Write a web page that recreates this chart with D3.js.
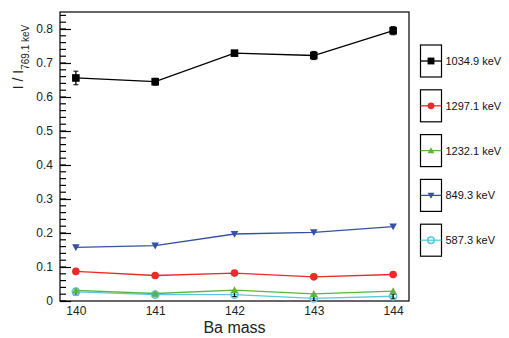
<!DOCTYPE html>
<html><head><meta charset="utf-8">
<script src="https://cdn.jsdelivr.net/npm/d3@7"></script>
<style>body{margin:0;background:#fff}svg{display:block}text{font-family:"Liberation Sans",Arial,sans-serif}</style>
</head><body>
<svg id="c" width="509" height="338"></svg>
<script>
const masses = [140, 141, 142, 143, 144];
const seriesNames = ["1034.9 keV", "1297.1 keV", "1232.1 keV", "849.3 keV", "587.3 keV"];
const v1034 = [0.656, 0.645, 0.729, 0.722, 0.795];
const e1034 = [0.020, 0.010, 0.006, 0.012, 0.012];
const v1297 = [0.087, 0.075, 0.082, 0.071, 0.078];
const v1232 = [0.031, 0.022, 0.032, 0.021, 0.029];
const v849 = [0.158, 0.163, 0.197, 0.202, 0.219];
const v587 = [0.027, 0.019, 0.019, 0.008, 0.014];
const e587 = [0.010, 0.004, 0.006, 0.006, 0.006];
const yTicks = [0, 0.1, 0.2, 0.3, 0.4, 0.5, 0.6, 0.7, 0.8];

const colors = ["#000000", "#ec2a2a", "#5cb53a", "#3550a5", "#5cc8de"];
const shapes = ["square", "circle", "triUp", "triDown", "openCircle"];
const series = [
  {name: seriesNames[0], vals: v1034, err: e1034},
  {name: seriesNames[1], vals: v1297, err: null},
  {name: seriesNames[2], vals: v1232, err: null},
  {name: seriesNames[3], vals: v849, err: null},
  {name: seriesNames[4], vals: v587, err: e587}
];

const L = 60, R = 409, T = 12, B = 301;
const svg = d3.select("#c");
const x = d3.scaleLinear().domain([139.8, 144.2]).range([L, R]);
const y = d3.scaleLinear().domain([0, 0.85]).range([B, T]);

svg.append("rect").attr("x", L).attr("y", T).attr("width", R - L).attr("height", B - T)
  .attr("fill", "none").attr("stroke", "#000").attr("stroke-width", 1.2);

const minor = d3.range(0, 0.851, 0.02).map(d => +d.toFixed(2));
svg.append("g").selectAll("line").data(minor).join("line")
  .attr("x1", L).attr("x2", L + 6).attr("y1", d => y(d)).attr("y2", d => y(d))
  .attr("stroke", "#000").attr("stroke-width", 1.2);
const yAxis = d3.axisLeft(y).tickValues(yTicks).tickSizeInner(-11).tickSizeOuter(0).tickPadding(7)
  .tickFormat(d => d === 0 ? "0" : d3.format(".1f")(d));
const gy = svg.append("g").attr("transform", `translate(${L},0)`).call(yAxis);
gy.select(".domain").remove();
gy.selectAll("line").attr("stroke-width", 1.2);
gy.selectAll("text").attr("font-size", 12).attr("fill", "#222").attr("font-family", "Liberation Sans, Arial, sans-serif");

const xAxis = d3.axisBottom(x).tickValues(masses).tickSize(0).tickPadding(5).tickFormat(d3.format("d"));
const gx = svg.append("g").attr("transform", `translate(0,${B})`).call(xAxis);
gx.select(".domain").remove();
gx.selectAll("text").attr("font-size", 12).attr("fill", "#222").attr("font-family", "Liberation Sans, Arial, sans-serif");

svg.append("text").attr("x", (L + R) / 2).attr("y", 333).attr("text-anchor", "middle")
  .attr("font-size", 16).attr("fill", "#222").text("Ba mass");
const yt = svg.append("text").attr("transform", "translate(23,57) rotate(-90)").attr("text-anchor", "middle")
  .attr("font-size", 14).attr("fill", "#222");
yt.append("tspan").text("I / I");
yt.append("tspan").attr("font-size", 10).attr("dy", 6).text("769.1 keV");

function marker(g, shape, color, cx, cy, scale) {
  const s = scale || 1;
  if (shape === "square") {
    g.append("rect").attr("x", cx - 3.8 * s).attr("y", cy - 3.8 * s).attr("width", 7.6 * s).attr("height", 7.6 * s).attr("fill", color);
  } else if (shape === "circle") {
    g.append("circle").attr("cx", cx).attr("cy", cy).attr("r", 3.8 * s).attr("fill", color);
  } else if (shape === "triUp") {
    const h = 3.8 * s;
    g.append("path").attr("d", `M${cx},${cy - h} L${cx + h},${cy + h * 0.8} L${cx - h},${cy + h * 0.8}Z`).attr("fill", color);
  } else if (shape === "triDown") {
    const h = 3.8 * s;
    g.append("path").attr("d", `M${cx},${cy + h} L${cx + h},${cy - h * 0.8} L${cx - h},${cy - h * 0.8}Z`).attr("fill", color);
  } else if (shape === "openCircle") {
    g.append("circle").attr("cx", cx).attr("cy", cy).attr("r", 3.6 * s).attr("fill", "none").attr("stroke", color).attr("stroke-width", 1.6);
  }
}

const line = d3.line().x((d, i) => x(masses[i])).y(d => y(d));
[4, 2, 1, 3, 0].forEach(k => {
  const s = series[k];
  const g = svg.append("g");
  g.append("path").datum(s.vals).attr("d", line).attr("fill", "none")
    .attr("stroke", colors[k]).attr("stroke-width", 1.3);
  if (s.err) {
    s.vals.forEach((v, i) => {
      const cx = x(masses[i]);
      g.append("line").attr("x1", cx).attr("x2", cx).attr("y1", y(v - s.err[i])).attr("y2", y(v + s.err[i]))
        .attr("stroke", "#000").attr("stroke-width", 1.3);
      g.append("line").attr("x1", cx - 2.5).attr("x2", cx + 2.5).attr("y1", y(v - s.err[i])).attr("y2", y(v - s.err[i])).attr("stroke", "#000");
      g.append("line").attr("x1", cx - 2.5).attr("x2", cx + 2.5).attr("y1", y(v + s.err[i])).attr("y2", y(v + s.err[i])).attr("stroke", "#000");
    });
  }
  s.vals.forEach((v, i) => marker(g, shapes[k], colors[k], x(masses[i]), y(v)));
});

const legY0 = 45, legStep = 44.8, boxW = 21, boxH = 32, legX = 420.5;
series.forEach((s, k) => {
  const g = svg.append("g").attr("transform", `translate(${legX},${legY0 + k * legStep})`);
  g.append("rect").attr("x", 0).attr("y", 0).attr("width", boxW).attr("height", boxH)
    .attr("fill", "#fff").attr("stroke", "#000").attr("stroke-width", 1.2);
  g.append("line").attr("x1", 0).attr("x2", boxW).attr("y1", boxH / 2).attr("y2", boxH / 2)
    .attr("stroke", colors[k]).attr("stroke-width", 1.3);
  marker(g, shapes[k], colors[k], boxW / 2, boxH / 2, 0.9);
  g.append("text").attr("x", boxW + 4).attr("y", boxH / 2 + 4).attr("font-size", 11).attr("fill", "#111").text(s.name);
});
</script>
</body></html>
